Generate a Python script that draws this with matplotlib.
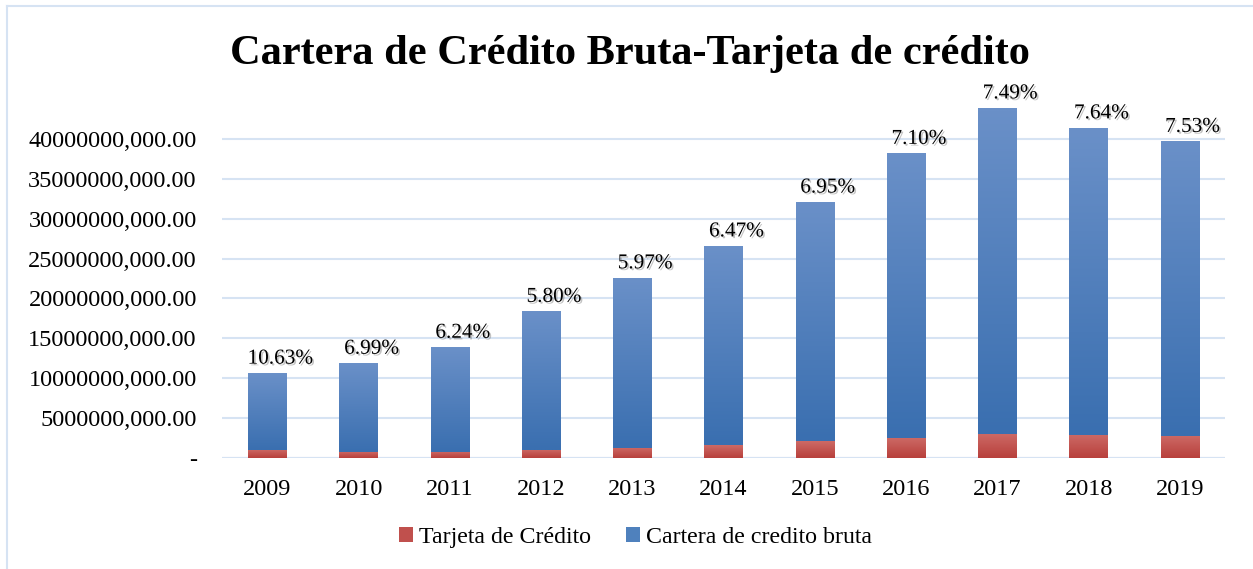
import numpy as np
import matplotlib
matplotlib.use("Agg")
import matplotlib.pyplot as plt
import matplotlib.patheffects as pe
from matplotlib.lines import Line2D
from matplotlib.patches import Patch

years = ["2009", "2010", "2011", "2012", "2013", "2014", "2015", "2016", "2017", "2018", "2019"]
tarjeta = [1.02e9, 0.78e9, 0.82e9, 1.01e9, 1.27e9, 1.62e9, 2.09e9, 2.53e9, 3.06e9, 2.94e9, 2.78e9]
cartera = [9.64e9, 11.12e9, 13.08e9, 17.39e9, 21.33e9, 24.98e9, 30.01e9, 35.67e9, 40.84e9, 38.46e9, 36.92e9]
pct_labels = ["10.63%", "6.99%", "6.24%", "5.80%", "5.97%", "6.47%", "6.95%", "7.10%", "7.49%", "7.64%", "7.53%"]
yticks = [0, 5e9, 10e9, 15e9, 20e9, 25e9, 30e9, 35e9, 40e9]

plt.rcParams['font.family'] = ['Liberation Serif', 'DejaVu Serif']

fig = plt.figure(figsize=(12.53, 5.69), dpi=100)
ax = fig.add_axes([0.177, 0.195, 0.801, 0.631])

x = np.arange(len(years))
w = 0.42

def grad_fill(bars, top_col, bot_col):
    top = np.array(matplotlib.colors.to_rgb(top_col))
    bot = np.array(matplotlib.colors.to_rgb(bot_col))
    t = np.linspace(0, 1, 64)[:, None]
    img = (top[None, :] * (1 - t) + bot[None, :] * t)[:, None, :]
    for b in bars:
        x0, y0 = b.get_x(), b.get_y()
        x1, y1 = x0 + b.get_width(), y0 + b.get_height()
        im = ax.imshow(img, extent=[x0, x1, y0, y1], aspect='auto', zorder=3,
                       interpolation='bilinear')
        im.set_clip_path(b)

b1 = ax.bar(x, tarjeta, width=w, color='#C0504D', zorder=2, linewidth=0)
b2 = ax.bar(x, cartera, width=w, bottom=tarjeta, color='#4F81BD', zorder=2, linewidth=0)
grad_fill(b1, '#CD6A66', '#B8403C')
grad_fill(b2, '#6A90C8', '#3A6FB0')

totals = [a + b for a, b in zip(tarjeta, cartera)]
for xi, tot, lab in zip(x, totals, pct_labels):
    ax.text(xi + 0.14, tot + 0.55e9, lab, ha='center', va='bottom', fontsize=15.3,
            color='black', zorder=5,
            path_effects=[pe.SimplePatchShadow(offset=(1.2, -1.2), shadow_rgbFace='#888888', alpha=0.5),
                          pe.Normal()])

ax.set_xlim(-0.5, len(years) - 0.5)
ax.set_ylim(0, 45e9)
ax.set_yticks(yticks)
ax.set_yticklabels(['-' if v == 0 else f"{v/1000:.0f},000.00" for v in yticks])
ax.set_xticks(x)
ax.set_xticklabels(years)
ax.tick_params(axis='y', length=0, pad=18, labelsize=17.5)
ax.tick_params(axis='x', length=0, pad=15, labelsize=17.5)
ax.grid(axis='y', color='#D6E3F3', linewidth=1.5, zorder=0)
for s in ax.spines.values():
    s.set_visible(False)
ax.axhline(0, color='#D6E3F3', linewidth=1.5, zorder=1)

fig.text(0.503, 0.905, "Cartera de Crédito Bruta-Tarjeta de crédito", ha='center', va='center',
         fontsize=30.5, fontweight='bold')

handles = [Patch(facecolor='#C0504D', edgecolor='none', label='Tarjeta de Crédito'),
           Patch(facecolor='#4F81BD', edgecolor='none', label='Cartera de credito bruta')]
fig.legend(handles=handles, loc='center', bbox_to_anchor=(0.507, 0.056), ncol=2, frameon=False,
           fontsize=17.2, handlelength=0.6, handleheight=0.6, handletextpad=0.25, columnspacing=1.45)

# chart border (left and top edges)
fig.add_artist(Line2D([6.5/1253, 6.5/1253], [0, 1 - 5.5/569], transform=fig.transFigure,
                      color='#D6E3F3', linewidth=1.5))
fig.add_artist(Line2D([6.5/1253, 1], [1 - 5.5/569, 1 - 5.5/569], transform=fig.transFigure,
                      color='#D6E3F3', linewidth=1.5))

fig.savefig('out.png', dpi=100)
